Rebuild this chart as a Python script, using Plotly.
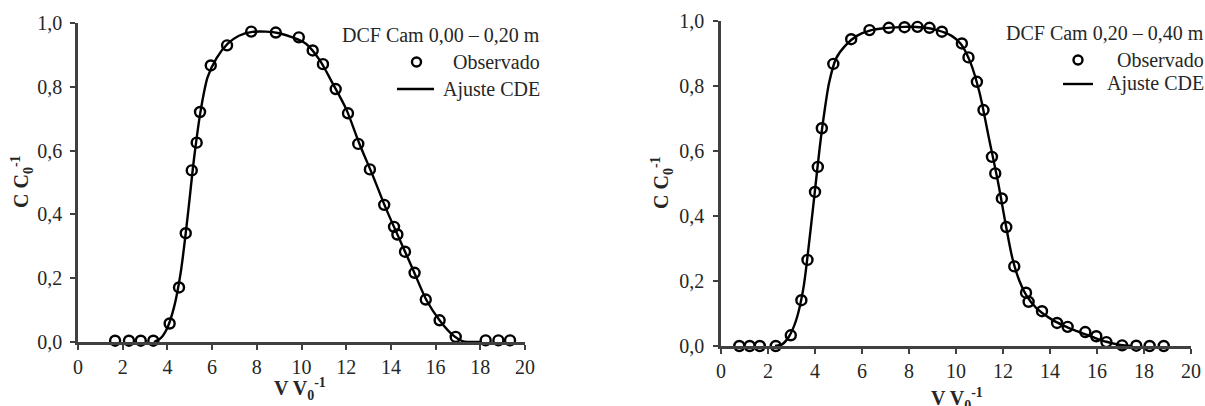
import plotly.graph_objects as go

# ---------------- data ----------------
# Left panel: DCF Cam 0,00 – 0,20 m
obs1_x = [1.66, 2.28, 2.81, 3.37, 4.10, 4.52, 4.82, 5.09, 5.31, 5.46, 5.94, 6.67, 7.75,
          8.85, 9.88, 10.50, 10.96, 11.53, 12.08, 12.54, 13.06, 13.70, 14.14, 14.29,
          14.63, 15.06, 15.56, 16.18, 16.90, 18.24, 18.81, 19.33]
obs1_y = [0.004, 0.004, 0.004, 0.004, 0.058, 0.171, 0.341, 0.538, 0.625, 0.721, 0.867,
          0.930, 0.973, 0.970, 0.955, 0.914, 0.871, 0.793, 0.717, 0.621, 0.541, 0.430,
          0.361, 0.337, 0.283, 0.217, 0.133, 0.068, 0.016, 0.005, 0.005, 0.005]
fit1_x = [3.4, 3.7, 4.0, 4.3, 4.6, 4.9, 5.2, 5.5, 5.8, 6.2, 6.7, 7.2, 7.8, 8.4, 9.0, 9.6,
          10.2, 10.8, 11.4, 12.0, 12.6, 13.2, 13.8, 14.4, 15.0, 15.6, 16.2, 16.8, 17.2, 18.0]
fit1_y = [0.0, 0.012, 0.045, 0.11, 0.22, 0.39, 0.58, 0.73, 0.83, 0.89, 0.935, 0.96, 0.972,
          0.973, 0.968, 0.955, 0.935, 0.885, 0.81, 0.73, 0.62, 0.52, 0.415, 0.32, 0.225,
          0.13, 0.066, 0.02, 0.003, 0.0]

# Right panel: DCF Cam 0,20 – 0,40 m
obs2_x = [0.78, 1.22, 1.65, 2.33, 2.97, 3.42, 3.68, 4.00, 4.12, 4.29, 4.78, 5.54, 6.32,
          7.14, 7.81, 8.36, 8.87, 9.40, 10.25, 10.53, 10.89, 11.17, 11.53, 11.67, 11.95,
          12.14, 12.48, 12.98, 13.09, 13.66, 14.30, 14.75, 15.50, 15.97, 16.40, 17.07,
          17.67, 18.24, 18.84]
obs2_y = [0.0, 0.0, 0.0, 0.0, 0.033, 0.141, 0.265, 0.474, 0.551, 0.670, 0.868, 0.944,
          0.972, 0.979, 0.981, 0.982, 0.979, 0.967, 0.931, 0.888, 0.813, 0.726, 0.582,
          0.531, 0.454, 0.366, 0.245, 0.164, 0.136, 0.107, 0.071, 0.059, 0.043, 0.030,
          0.012, 0.002, 0.001, 0.0, 0.0]
fit2_x = [2.3, 2.6, 2.9, 3.2, 3.5, 3.8, 4.0, 4.2, 4.4, 4.6, 4.9, 5.3, 5.8, 6.4, 7.0, 7.8,
          8.6, 9.2, 9.8, 10.2, 10.6, 11.0, 11.4, 11.8, 12.1, 12.4, 12.7, 13.0, 13.4, 14.0,
          14.6, 15.2, 15.8, 16.4, 17.0, 17.5]
fit2_y = [0.0, 0.005, 0.03, 0.08, 0.175, 0.35, 0.48, 0.61, 0.72, 0.81, 0.885, 0.925,
          0.955, 0.972, 0.978, 0.982, 0.98, 0.972, 0.955, 0.93, 0.875, 0.78, 0.64, 0.5,
          0.38, 0.27, 0.2, 0.155, 0.118, 0.085, 0.062, 0.044, 0.028, 0.013, 0.003, 0.0]

legend1_title = "DCF Cam 0,00 – 0,20 m"
legend2_title = "DCF Cam 0,20 – 0,40 m"
obs_label = "Observado"
fit_label = "Ajuste CDE"
x_title = "<b>V V<sub>0</sub><sup>-1</sup></b>"
y_title = "<b>C C<sub>0</sub><sup>-1</sup></b>"
x_ticks = [0, 2, 4, 6, 8, 10, 12, 14, 16, 18, 20]
y_ticks = [0.0, 0.2, 0.4, 0.6, 0.8, 1.0]

# ---------------- figure ----------------
W, H = 1205, 406
FONT = "Liberation Serif"
TXT = "#262626"
AX = "#404040"


def px(xp):
    return xp / W


def py(yp):
    return 1 - yp / H


fig = go.Figure()

for (ox, oy, fx, fy, xa, ya) in [(obs1_x, obs1_y, fit1_x, fit1_y, "x", "y"),
                                 (obs2_x, obs2_y, fit2_x, fit2_y, "x2", "y2")]:
    fig.add_trace(go.Scatter(x=fx, y=fy, mode="lines",
                             line=dict(color="black", width=2.4, shape="spline", smoothing=0.8),
                             xaxis=xa, yaxis=ya, showlegend=False, cliponaxis=False, name=fit_label))
    fig.add_trace(go.Scatter(x=ox, y=oy, mode="markers",
                             marker=dict(symbol="circle-open", size=10, color="black",
                                         line=dict(width=2.4, color="black")),
                             xaxis=xa, yaxis=ya, showlegend=False, cliponaxis=False, name=obs_label))

axis_common = dict(showgrid=False, zeroline=False, showline=True, linecolor=AX, linewidth=2.5,
                   ticks="outside", ticklen=5, tickwidth=2, tickcolor=AX,
                   tickfont=dict(family=FONT, size=20, color=TXT), automargin=False, fixedrange=True)

fig.update_layout(
    width=W, height=H, margin=dict(l=0, r=0, t=0, b=0),
    paper_bgcolor="white", plot_bgcolor="white", separators=", ",
    showlegend=False,
    xaxis=dict(domain=[px(78), px(525)], range=[0, 20], tickvals=x_ticks, anchor="y", **axis_common),
    yaxis=dict(domain=[py(342), py(23)], range=[0, 1], tickvals=y_ticks, tickformat=".1f",
               anchor="x", ticklabelstandoff=4, **axis_common),
    xaxis2=dict(domain=[px(721), px(1191)], range=[0, 20], tickvals=x_ticks, anchor="y2", **axis_common),
    yaxis2=dict(domain=[py(346), py(21)], range=[0, 1], tickvals=y_ticks, tickformat=".1f",
                anchor="x2", ticklabelstandoff=5, **axis_common),
)

ann = []
shapes = []
# axis titles
for (xc, yc) in [(300, 389), (957, 399)]:
    ann.append(dict(text=x_title, x=px(xc), y=py(yc), xref="paper", yref="paper", showarrow=False,
                    xanchor="center", yanchor="middle", font=dict(family=FONT, size=20, color=TXT)))
for (xc, yc) in [(22, 182), (662, 183)]:
    ann.append(dict(text=y_title, x=px(xc), y=py(yc), xref="paper", yref="paper", showarrow=False,
                    textangle=-90, xanchor="center", yanchor="middle", font=dict(family=FONT, size=20, color=TXT)))

# legends
for (title, xr, yt, yo, ya_, cx, lx0, lx1) in [(legend1_title, 541, 35, 62, 89, 416.5, 397, 434),
                                              (legend2_title, 1205, 33, 60, 84, 1078, 1063, 1093)]:
    for (t, yy) in [(title, yt), (obs_label, yo), (fit_label, ya_)]:
        ann.append(dict(text=t, x=px(xr), y=py(yy), xref="paper", yref="paper", showarrow=False,
                        xanchor="right", yanchor="middle", borderpad=0,
                        font=dict(family=FONT, size=20, color=TXT)))
    shapes.append(dict(type="circle", xref="paper", yref="paper", x0=px(cx - 4.5), x1=px(cx + 4.5),
                       y0=py(yo + 4.5), y1=py(yo - 4.5), line=dict(color="black", width=2.4)))
    shapes.append(dict(type="line", xref="paper", yref="paper", x0=px(lx0), x1=px(lx1),
                       y0=py(ya_), y1=py(ya_), line=dict(color="black", width=2.4)))

fig.update_layout(annotations=ann, shapes=shapes)

fig.write_html("out.html", config={"displayModeBar": False},
               post_script="document.body.style.margin='0';document.body.style.padding='0';")
